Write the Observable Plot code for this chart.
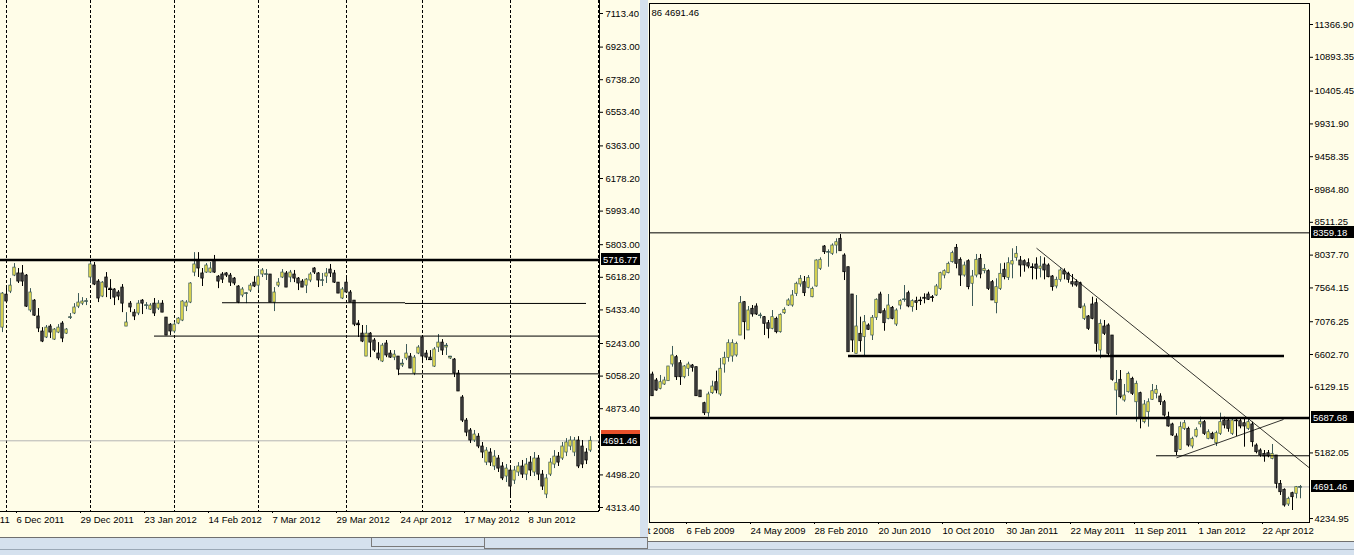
<!DOCTYPE html>
<html><head><meta charset="utf-8">
<script src="https://cdn.jsdelivr.net/npm/d3@7"></script>
<script src="https://cdn.jsdelivr.net/npm/@observablehq/plot@0.6"></script>
<style>
html,body{margin:0;padding:0;}
body{width:1354px;height:555px;background:#d5e1ee;position:relative;overflow:hidden;font-family:"Liberation Sans",Arial,sans-serif;}
#left{position:absolute;left:0;top:0;width:640px;height:537px;}
#right{position:absolute;left:648px;top:0;width:706px;height:541px;}
.chrome{position:absolute;box-sizing:border-box;}
</style></head><body>
<div id="left"></div><div id="right"></div>
<div class="chrome" style="left:0;top:537px;width:648px;height:1px;background:#6f6f6f"></div>
<div class="chrome" style="left:371px;top:538px;width:114px;height:9px;border:1px solid #7a7a7a;border-top:none"></div>
<div class="chrome" style="left:484px;top:538px;width:164px;height:11px;border:1px solid #7a7a7a;border-top:none"></div>
<div class="chrome" style="left:648px;top:541px;width:706px;height:1px;background:#6f6f6f"></div>
<div class="chrome" style="left:0;top:549px;width:1354px;height:1px;background:#9aa8b6"></div>
<script>
// ---------- LEFT CHART (daily, Nov 2011 .. Jun 2012) ----------
const leftOpen = [5333,5520,5537,5628,5640,5640,5628,5430,5486,5396,
 5311,5277,5339,5265,5305,5356,5299,5390,5413,5452,
 5469,5481,5617,5685,5594,5509,5617,5554,5549,5532,
 5560,5339,5469,5418,5413,5486,5458,5435,5469,5441,
 5469,5390,5350,5311,5356,5373,5452,5475,5645,5713,
 5640,5645,5645,5713,5622,5634,5640,5628,5611,5566,
 5515,5526,5543,5588,5571,5634,5634,5634,5475,5571,
 5617,5640,5617,5634,5611,5594,5571,5600,5668,5640,
 5600,5622,5662,5640,5588,5498,5588,5532,5486,5356,
 5299,5169,5299,5260,5186,5141,5243,5186,5163,5169,
 5118,5158,5169,5073,5186,5277,5186,5163,5112,5220,
 5248,5220,5158,5152,5073,4937,4806,4750,4693,4715,
 4659,4568,4625,4546,4591,4546,4489,4523,4466,4512,
 4546,4500,4568,4512,4591,4500,4387,4500,4557,4602,
 4591,4625,4659,4625,4693,4659,4625,4636];
const leftHigh = [5532,5560,5611,5696,5668,5685,5634,5554,5492,5441,
 5333,5345,5350,5328,5350,5367,5328,5413,5469,5526,
 5503,5498,5702,5702,5605,5594,5645,5605,5554,5543,
 5577,5418,5481,5435,5486,5492,5475,5469,5498,5486,
 5486,5390,5356,5362,5390,5486,5486,5588,5758,5758,
 5668,5696,5702,5742,5628,5645,5645,5640,5617,5571,
 5560,5532,5583,5622,5662,5668,5662,5634,5560,5611,
 5662,5651,5657,5657,5617,5605,5611,5645,5673,5645,
 5640,5668,5691,5657,5588,5560,5611,5543,5486,5373,
 5345,5345,5305,5271,5248,5243,5260,5203,5203,5169,
 5152,5237,5186,5175,5231,5277,5203,5203,5220,5294,
 5265,5243,5169,5158,5090,4948,4818,4761,4750,4732,
 4682,4653,4647,4636,4608,4568,4557,4546,4546,4568,
 4580,4591,4602,4625,4608,4523,4500,4591,4636,4625,
 4682,4704,4715,4710,4715,4693,4647,4715];
const leftLow = [5305,5469,5526,5622,5583,5566,5447,5418,5396,5305,
 5248,5271,5271,5260,5299,5248,5294,5379,5407,5441,
 5458,5458,5583,5571,5475,5503,5503,5492,5458,5486,
 5418,5339,5418,5373,5401,5407,5435,5430,5396,5430,
 5418,5288,5288,5299,5350,5367,5424,5469,5622,5617,
 5566,5640,5640,5640,5554,5583,5617,5566,5571,5469,
 5503,5469,5532,5560,5543,5617,5600,5475,5424,5560,
 5611,5560,5588,5588,5543,5560,5526,5588,5634,5560,
 5566,5583,5617,5583,5526,5492,5526,5475,5339,5277,
 5248,5169,5163,5192,5146,5135,5163,5158,5146,5061,
 5107,5146,5101,5061,5180,5129,5146,5146,5107,5192,
 5175,5175,5152,5050,4971,4795,4715,4676,4682,4647,
 4591,4551,4546,4523,4512,4466,4455,4376,4444,4489,
 4478,4466,4489,4489,4466,4410,4364,4489,4534,4546,
 4580,4602,4636,4602,4534,4534,4557,4625];
const leftClose = [5526,5481,5571,5673,5594,5594,5452,5532,5401,5328,
 5254,5333,5305,5322,5333,5271,5322,5392,5447,5475,
 5481,5483,5691,5577,5498,5588,5560,5549,5503,5509,
 5469,5362,5447,5396,5469,5469,5460,5458,5413,5469,
 5418,5288,5311,5350,5384,5481,5475,5583,5691,5668,
 5611,5685,5668,5645,5594,5605,5628,5588,5583,5475,
 5549,5528,5571,5566,5622,5657,5636,5475,5532,5588,
 5645,5560,5645,5611,5583,5560,5605,5634,5645,5600,
 5602,5640,5640,5588,5526,5549,5532,5475,5350,5350,
 5254,5299,5248,5203,5158,5231,5175,5163,5180,5095,
 5129,5186,5101,5163,5220,5169,5163,5152,5209,5248,
 5203,5231,5169,5073,4971,4806,4738,4693,4727,4659,
 4625,4636,4568,4602,4534,4478,4534,4432,4523,4546,
 4500,4557,4523,4591,4500,4432,4478,4568,4602,4568,
 4659,4682,4693,4693,4546,4557,4580,4691.46];
const leftLabelBars = [-12, 3, 19, 35, 51, 67, 83, 99, 115, 131];
const leftLabelText = ["15 Nov 2011","6 Dec 2011","29 Dec 2011","23 Jan 2012","14 Feb 2012","7 Mar 2012","29 Mar 2012","24 Apr 2012","17 May 2012","8 Jun 2012"];
const leftGridBars = [1, 22, 43, 64, 86, 105, 127, 149];
const leftYTicks = [7113.40,6923.00,6738.20,6553.40,6363.00,6178.20,5993.40,5803.00,5618.20,5433.40,5243.00,5058.20,4873.40,4498.20,4313.40];
const leftThickLevels = [5716.77];
const leftSegments = [
  {from: 55, to: 100.75, price: 5474},
  {from: 100.75, to: 146, price: 5470},
  {from: 38, to: 149.25, price: 5285},
  {from: 99, to: 149.25, price: 5071}
];
const leftBid = 4691.46, leftAsk = 4713.46;

// ---------- RIGHT CHART (weekly, Oct 2008 .. 2012) ----------
const rightOpen = [6314,6228,6108,6170,6218,6459,6564,6477,6275,6397,
 6444,6420,6083,5900,5755,6045,6203,6026,6459,6555,
 6574,6589,6877,7358,6950,7263,7296,7166,7142,7055,
 6974,7118,6925,7199,7310,7310,7479,7614,7647,7566,
 7430,7585,7840,8162,8080,8057,8176,8273,8032,7863,
 7469,6613,6902,6853,7022,6877,7133,7469,7228,7118,
 7277,7036,7310,7397,7488,7286,7373,7383,7422,7469,
 7430,7455,7551,7743,7777,7936,8143,7970,7743,7950,
 7624,7743,7984,7806,7806,7647,7344,7551,7826,7710,
 7902,7999,7960,7950,7921,7863,7902,7840,7902,7888,
 7729,7585,7681,7806,7768,7647,7647,7632,7118,7152,
 7325,7344,6661,7007,7022,6877,6083,6238,5939,6059,
 6252,5914,6045,5626,5770,5949,6036,5997,5914,5698,
 5593,5419,5227,5530,5530,5275,5419,5593,5626,5386,
 5458,5323,5458,5650,5650,5458,5650,5640,5611,5530,
 5593,5289,5217,5169,5178,5097,5145,4736,4650,4438,
 4601,4592,4680];
const rightHigh = [6348,6257,6300,6275,6430,6719,6589,6516,6444,6492,
 6459,6420,6083,5914,6059,6218,6363,6545,6636,6815,
 6815,6781,7440,7368,7296,7310,7335,7199,7152,7094,
 7238,7142,7190,7277,7407,7527,7647,7743,7729,7743,
 7575,7970,7999,8176,8114,8200,8273,8335,8057,7863,
 7469,7455,7142,7166,7046,7166,7407,7502,7263,7469,
 7296,7263,7393,7599,7517,7393,7430,7430,7479,7502,
 7455,7614,7791,7825,7936,8094,8191,7999,7936,7970,
 7816,8047,8047,7902,7825,7671,7696,7912,7921,7999,
 8129,8162,8018,7970,7984,7912,7999,8018,7999,7912,
 7743,7719,7840,7840,7791,7758,7681,7647,7335,7166,
 7430,7407,7104,7094,7046,6877,6372,6372,6170,6348,
 6275,6218,6059,5939,5963,6170,6156,6036,5939,5770,
 5611,5458,5626,5650,5554,5409,5545,5698,5650,5516,
 5481,5496,5756,5698,5675,5689,5675,5675,5675,5689,
 5626,5313,5241,5217,5217,5304,5145,4784,4664,4543,
 4615,4698,4712];
const rightLow = [6001,6073,6093,6156,6218,6420,6228,6156,6252,6285,
 6348,6001,5986,5722,5698,6026,6036,5997,6334,6492,
 6492,6564,6877,6815,6950,7142,7166,7118,6877,6830,
 6960,6902,6911,7181,7296,7286,7440,7575,7440,7551,
 7422,7575,7816,8047,7863,8033,8057,8094,7671,6632,
 6632,6613,6636,6564,6950,6805,7094,7190,6939,7104,
 7104,7007,7248,7358,7277,7214,7238,7310,7335,7383,
 7358,7440,7527,7696,7768,7922,7840,7585,7719,7537,
 7296,7710,7696,7768,7527,7383,7191,7527,7681,7671,
 7696,7950,7719,7791,7840,7681,7681,7710,7681,7710,
 7517,7551,7647,7681,7632,7575,7575,7263,7094,6950,
 7104,6636,6541,6877,6574,6218,5722,5963,5914,6045,
 6011,5626,5530,5603,5554,5939,5963,5867,5698,5554,
 5419,5145,5217,5506,5265,5242,5400,5545,5434,5372,
 5372,5275,5434,5530,5481,5434,5419,5530,5265,5506,
 5265,5169,5120,5048,5112,5083,4664,4568,4399,4409,
 4351,4520,4520];
const rightClose = [6001,6083,6203,6228,6430,6589,6275,6275,6430,6459,
 6411,6001,5986,5755,6026,6141,6083,6397,6555,6766,
 6766,6757,7344,7069,7238,7181,7181,7168,7046,6974,
 7142,6925,7176,7248,7383,7455,7624,7696,7488,7710,
 7551,7960,7970,8080,8082,8176,8224,8094,7791,6636,
 6805,7007,6795,7069,6960,7133,7393,7199,7055,7310,
 7118,7238,7373,7399,7296,7373,7349,7381,7418,7393,
 7428,7585,7777,7806,7912,8066,7912,7743,7888,7575,
 7729,7970,7758,7840,7551,7383,7575,7768,7719,7921,
 7950,8057,7888,7888,7873,7861,7840,7873,7816,7719,
 7575,7681,7816,7758,7681,7614,7599,7277,7296,6974,
 7118,6757,7046,6902,6613,6238,6189,5986,6011,6324,
 6036,6180,5675,5881,5914,6073,6093,5914,5722,5564,
 5434,5193,5554,5611,5289,5386,5516,5626,5458,5481,
 5386,5467,5626,5578,5530,5650,5648,5564,5564,5626,
 5337,5193,5145,5131,5131,5169,4736,4615,4423,4520,
 4543,4688,4691.46];
const rightLabelBars = [-8, 8, 24, 40, 56, 72, 88, 104, 120, 136, 152];
const rightLabelText = ["17 Oct 2008","6 Feb 2009","24 May 2009","28 Feb 2010","20 Jun 2010","10 Oct 2010","30 Jan 2011","22 May 2011","11 Sep 2011","1 Jan 2012","22 Apr 2012"];
const rightYTicks = [11366.90,10893.35,10405.45,9931.90,9458.35,8984.80,8511.25,8037.70,7564.15,7076.25,6602.70,6129.15,5182.05,4234.95];
const rightThinLevels = [{from: -0.75, to: 164.25, price: 8359.18}, {from: 126, to: 164.25, price: 5141}];
const rightThickLevels = [{from: 49, to: 158, price: 6580}, {from: -0.75, to: 164.25, price: 5687.68}];
const rightTrendlines = [
  {x1: 96, y1: 8138, x2: 164.25, y2: 4965},
  {x1: 131, y1: 5112, x2: 157.75, y2: 5665}
];
const rightBid = 4691.46;
const rightTitle = "86 4691.46";

// ---------- styling / layout constants ----------
const CREAM = "#fffde8";
const BULL = "#f4ea4e", BULL_EDGE = "#3d5a58";
const BEAR = "#444444", BEAR_EDGE = "#000000";
const FONT = '"Liberation Sans", Arial, sans-serif';
const FS = "9.5px";
const leftXDomain = [-0.5, 149.25], leftYDomain = [4290.8, 7187.1];
const rightXDomain = [-0.75, 164.25], rightYDomain = [4177.8, 11670.1];

function toBars(o, h, l, c) {
  return o.map((v, i) => ({i, o: v, h: h[i], l: l[i], c: c[i], up: c[i] >= v}));
}
function candleMarks(bars) {
  const dojis = bars.filter(d => Math.abs(d.o - d.c) < 12);
  return [
    Plot.ruleX(bars, {x: "i", y1: "l", y2: "h", stroke: d => d.up ? BULL_EDGE : BEAR_EDGE}),
    Plot.rect(bars, {x1: d => d.i - 0.3, x2: d => d.i + 0.3,
      y1: d => Math.min(d.o, d.c), y2: d => Math.max(d.o, d.c),
      fill: d => d.up ? BULL : BEAR, stroke: d => d.up ? BULL_EDGE : BEAR_EDGE, strokeWidth: 0.75}),
    Plot.ruleY(dojis, {y: "c", x1: d => d.i - 0.5, x2: d => d.i + 0.5, stroke: d => d.up ? BULL_EDGE : BEAR_EDGE})
  ];
}
function badge(svg, y, value, x, w, bg, fg) {
  const yy = Math.round(y(value));
  const g = d3.select(svg).append("g").attr("text-anchor", "start");
  g.append("rect").attr("x", x).attr("y", yy - 6).attr("width", w).attr("height", 12).attr("fill", bg);
  g.append("text").attr("x", x + 2).attr("y", yy + 3.5).attr("fill", fg).attr("text-anchor", "start")
    .style("font-family", FONT).style("font-size", FS).text(value.toFixed(2));
}

const leftBars = toBars(leftOpen, leftHigh, leftLow, leftClose);
const rightBars = toBars(rightOpen, rightHigh, rightLow, rightClose);

const leftChart = Plot.plot({
  width: 640, height: 537,
  marginLeft: 0, marginTop: 0, marginRight: 41, marginBottom: 26,
  x: {domain: leftXDomain},
  y: {domain: leftYDomain},
  color: {type: "identity"},
  style: {background: CREAM, fontFamily: FONT, fontSize: FS, color: "#000", overflow: "hidden"},
  marks: [
    Plot.ruleX(leftGridBars, {stroke: "#000", strokeDasharray: "3,2"}),
    Plot.ruleY([leftBid], {stroke: "#b4b4b4"}),
    ...candleMarks(leftBars),
    Plot.ruleY(leftThickLevels, {stroke: "#000", strokeWidth: 2.5}),
    Plot.ruleY(leftSegments, {y: "price", x1: "from", x2: "to", stroke: "#000"}),
    Plot.ruleX([leftXDomain[1]], {stroke: "#000"}),
    Plot.ruleY([leftYDomain[0]], {stroke: "#000"}),
    Plot.axisY(leftYTicks, {anchor: "right", tickFormat: d => d.toFixed(2), tickSize: 3, tickPadding: 3}),
    Plot.axisX(leftLabelBars, {tickFormat: i => leftLabelText[leftLabelBars.indexOf(i)], textAnchor: "start", tickSize: 2, tickPadding: 3, dx: 2})
  ]
});
document.getElementById("left").append(leftChart);
const ly = leftChart.scale("y");
badge(leftChart, v => ly.apply(v), leftAsk, 601, 40, "#e8502a", "#fff");
badge(leftChart, v => ly.apply(v), leftBid, 601, 40, "#000", "#fff");
badge(leftChart, v => ly.apply(v), leftThickLevels[0], 601, 40, "#000", "#fff");

const rightChart = Plot.plot({
  width: 706, height: 541,
  marginLeft: 1, marginTop: 3, marginRight: 45, marginBottom: 19,
  x: {domain: rightXDomain},
  y: {domain: rightYDomain},
  color: {type: "identity"},
  style: {background: CREAM, fontFamily: FONT, fontSize: FS, color: "#000", overflow: "hidden"},
  marks: [
    Plot.ruleY([rightBid], {stroke: "#b4b4b4"}),
    ...candleMarks(rightBars),
    Plot.ruleY(rightThinLevels, {y: "price", x1: "from", x2: "to", stroke: "#000"}),
    Plot.ruleY(rightThickLevels, {y: "price", x1: "from", x2: "to", stroke: "#000", strokeWidth: 2.5}),
    Plot.link(rightTrendlines, {x1: "x1", y1: "y1", x2: "x2", y2: "y2", stroke: "#000", strokeWidth: 0.8}),
    Plot.frame({stroke: "#000"}),
    Plot.text([rightTitle], {text: d => d, frameAnchor: "top-left", textAnchor: "start", lineAnchor: "middle", dx: 2, dy: 9}),
    Plot.axisY(rightYTicks, {anchor: "right", tickFormat: d => d.toFixed(2), tickSize: 3, tickPadding: 2}),
    Plot.axisX(rightLabelBars, {tickFormat: i => rightLabelText[rightLabelBars.indexOf(i)], textAnchor: "start", tickSize: 2, tickPadding: 3, dx: 2})
  ]
});
document.getElementById("right").append(rightChart);
const ry = rightChart.scale("y");
badge(rightChart, v => ry.apply(v), 8359.18, 663, 43, "#000", "#fff");
badge(rightChart, v => ry.apply(v), 5687.68, 663, 43, "#000", "#fff");
badge(rightChart, v => ry.apply(v), rightBid, 663, 43, "#000", "#fff");
</script>
</body></html>
